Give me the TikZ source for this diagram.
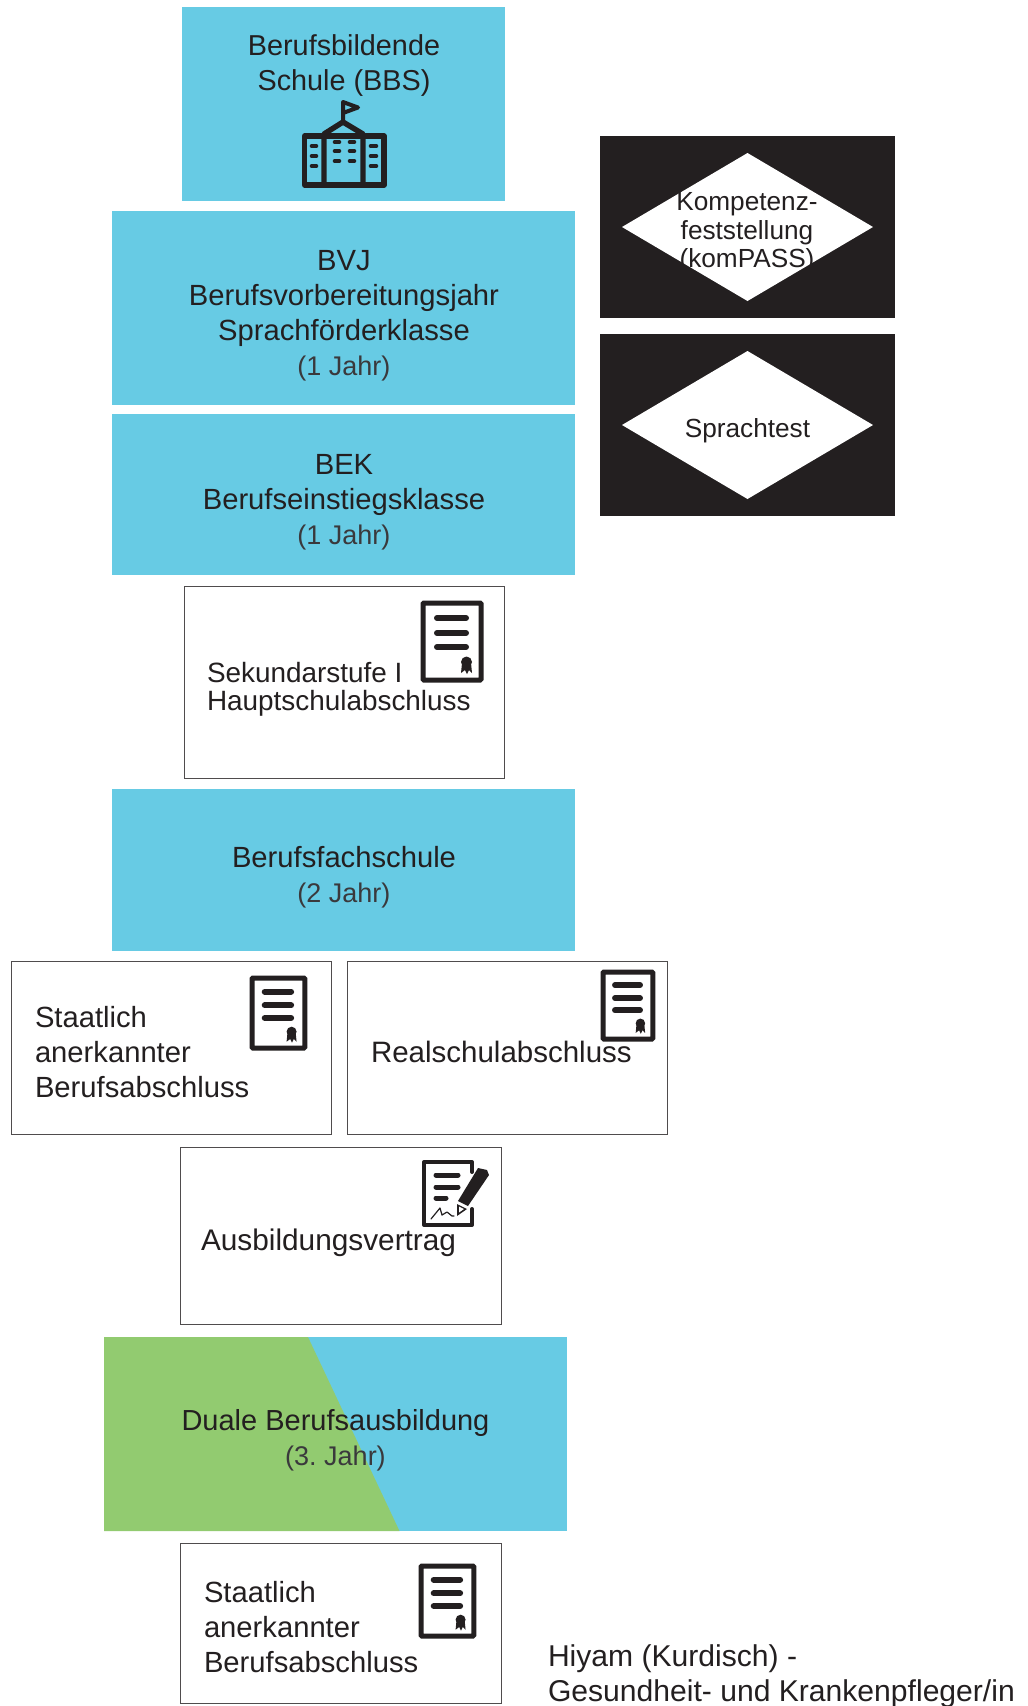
\documentclass[tikz,border=0pt]{standalone}
\usepackage{fontspec}
\setmainfont{Liberation Sans}
\usetikzlibrary{shapes.geometric}
\definecolor{bbsblue}{HTML}{67CBE4}
\definecolor{dualgreen}{HTML}{92CB70}
\definecolor{inkblack}{HTML}{231F20}
\definecolor{lightink}{HTML}{3A393C}
\newcommand{\jahr}[1]{{\fontsize{27}{35}\selectfont\color{lightink}#1}}
\tikzset{
  pics/cert/.style={code={
    \draw [inkblack, line width=5pt, rounded corners=1pt] (0,0) rectangle (58,77);
    \draw [inkblack, line width=6pt, line cap=round] (14,15) -- (43,15);
    \draw [inkblack, line width=6pt, line cap=round] (14,30) -- (43,30);
    \draw [inkblack, line width=6pt, line cap=round] (14,44) -- (43,44);
    \fill [inkblack] (43.5,59) circle (5.5pt);
    \fill [inkblack] (39,60) -- (48,60) -- (49,70) -- (46,67) -- (44,71) -- (42,67) -- (38,70) -- cycle;
  }},
}
\begin{document}
\begin{tikzpicture}[x=1pt, y=-1pt, font=\frenchspacing\fontsize{29.2}{35}\selectfont, text=inkblack]
\tikzset{ inner sep=0pt, outer sep=0pt,
  bluebox/.style={fill=bbsblue, anchor=north west},
  whitebox/.style={draw=inkblack!80, line width=0.8pt, fill=white, anchor=north west},
  blackbox/.style={fill=inkblack, anchor=north west, minimum width=295pt, minimum height=182pt},
  testdiamond/.style={diamond, fill=white, aspect=1.7, minimum width=251pt, minimum height=148pt},
  boxtext/.style={align=left, anchor=base west},
  testtext/.style={align=center, font=\fontsize{26.2}{28.5}\selectfont},
}
\useasboundingbox (0,0) rectangle (1028,1706);

%\draw [lightgray, dashed](0,0) grid (1028,1706);

\node [bluebox, minimum width=323pt, minimum height=194pt] (BBS) at (182,7) {};
\node [align=center, font=\fontsize{28.8}{35}\selectfont] (BBSt) at (344,66) {Berufsbildende\\Schule (BBS)};

\node [bluebox, minimum width=463pt, minimum height=194pt] (BVJ) at (112,211) {};
\node [align=center] (BVJt) at (344,315.5) {BVJ\\Berufsvorbereitungsjahr\\Sprachförderklasse\\\jahr{(1 Jahr)}};
\node [bluebox, minimum width=463pt, minimum height=161pt] (BEK) at (112,414) {};
\node [align=center] (BEKt) at (344,502) {BEK\\Berufseinstiegsklasse\\\jahr{(1 Jahr)}};

\node [whitebox, minimum width=320pt, minimum height=192pt] (SEK) at (184,586) {};
\node [boxtext, font=\fontsize{27.9}{35}\selectfont] (SEKt) at (207,710) {Sekundarstufe I\\[-7pt]Hauptschulabschluss};

\node [bluebox, minimum width=463pt, minimum height=162pt] (BFS) at (112,789) {};
\node [align=center] (BFSt) at (344,877) {Berufsfachschule\\\jahr{(2 Jahr)}};

\node [whitebox, minimum width=320.5pt, minimum height=173.5pt] (SAB) at (11,961) {};
\node [boxtext] (SABt) at (35,1097) {Staatlich\\anerkannter\\Berufsabschluss};
\node [whitebox, minimum width=320.5pt, minimum height=173.5pt] (REA) at (347,961) {};
\node [boxtext, font=\fontsize{29.5}{35}\selectfont] (REAt) at (371,1062) {Realschulabschluss};

\node [whitebox, minimum width=321pt, minimum height=177pt] (AUS) at (180,1147) {};
\node [boxtext, font=\fontsize{29.8}{35}\selectfont] (AUSt) at (201,1250) {Ausbildungsvertrag};

\node [bluebox, minimum width=463pt, minimum height=194pt] (DUA) at (104,1337) {};
\fill [dualgreen] (DUA.north west) -- (308,1337) -- (399.5,1531) -- (DUA.south west) -- cycle;
\node [align=center, font=\frenchspacing\fontsize{29}{35}\selectfont] (DUAt) at (335.5,1440) {Duale Berufsausbildung\\\jahr{(3. Jahr)}};

\node [whitebox, minimum width=321pt, minimum height=160pt] (SBA) at (180,1543) {};
\node [boxtext] (SBAt) at (204,1672.5) {Staatlich\\anerkannter\\Berufsabschluss};

\node [blackbox] (KOMb) at (600,136) {};
\node [testdiamond] (KOM) at (747.5,227) {};
\node [testtext] (KOMt) at (747,233) {Kompetenz-\\feststellung\\(komPASS)};
\node [blackbox] (SPRb) at (600,334) {};
\node [testdiamond] (SPR) at (747.5,425) {};
\node [testtext] (SPRt) at (747.5,431) {Sprachtest};

\node [boxtext, font=\fontsize{30.1}{35}\selectfont] (HIY) at (548,1701.5) {Hiyam (Kurdisch) -\\Gesundheit- und Krankenpfleger/in};

% certificates
\pic at (423,603) {cert};
\pic [xscale=0.91, yscale=0.91] at (252,978) {cert};
\pic [xscale=0.86, yscale=0.87] at (603,972) {cert};
\pic [xscale=0.91, yscale=0.91] at (421,1566) {cert};

% school
\begin{scope}[inkblack, line width=5.4pt, line join=round, line cap=round]
\draw (304.5,136) rectangle (384,185);
\draw (324,185) -- (324,134) -- (343,122) -- (363,134) -- (363,185);
\draw [line width=4pt] (343,122) -- (343,102) -- (358,107.5) -- (343,113);
\foreach \y in {146,156,166} {
  \draw [line width=4.6pt] (312,\y) -- (316,\y);
  \draw [line width=4.6pt] (371,\y) -- (376,\y);
}
\foreach \y in {142,151,161} {
  \draw [line width=4.6pt] (335,\y) -- (339,\y);
  \draw [line width=4.6pt] (350,\y) -- (354,\y);
}
\end{scope}

% contract
\begin{scope}[inkblack, line width=4pt, line cap=round, line join=round]
\draw (472,1172) -- (472,1162) -- (424,1162) -- (424,1225) -- (472,1225) -- (472,1209);
\draw [line width=5pt] (436,1175) -- (458,1175);
\draw [line width=5pt] (436,1187) -- (458,1187);
\draw [line width=5pt] (436,1198) -- (446,1198);
\draw [line width=1.2pt] (431,1219) -- (440,1208) -- (442,1215) -- (447,1212) -- (452,1216) -- (454,1216);
\fill (478,1168) -- (487,1170) -- (489,1175) -- (468,1206) -- (458,1201) -- cycle;
\fill (457,1204) -- (467,1209) -- (457,1216) -- cycle;
\fill [white] (459,1206.5) -- (464,1209) -- (459,1212.5) -- cycle;
\end{scope}
\end{tikzpicture}
\end{document}
